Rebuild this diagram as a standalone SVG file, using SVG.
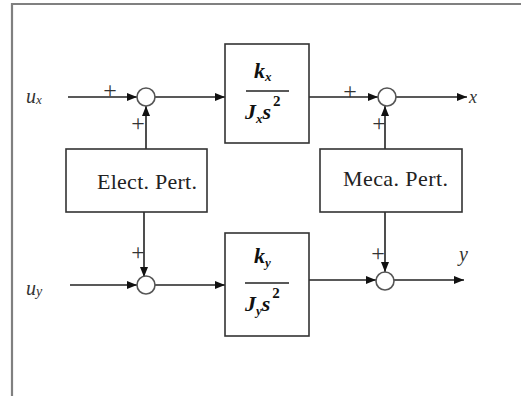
<svg xmlns="http://www.w3.org/2000/svg" width="521" height="396" viewBox="0 0 521 396">
<defs>
<marker id="ah" markerWidth="10" markerHeight="8" refX="10" refY="4" orient="auto" markerUnits="userSpaceOnUse">
<path d="M0,0 L10,4 L0,8 Z" fill="#111"/>
</marker>
<style>
.ln{stroke:#222;stroke-width:1.6;fill:none}
.bx{stroke:#333;stroke-width:1.6;fill:#fff}
.sj{stroke:#555;stroke-width:1.6;fill:#fff}
.t{font-family:"Liberation Serif","Times New Roman",serif;fill:#222}
.tf{font-family:"Liberation Serif","Times New Roman",serif;font-weight:bold;font-style:italic;fill:#111}
.it{font-family:"Liberation Serif","Times New Roman",serif;font-style:italic;fill:#333}
.pl{font-family:"Liberation Serif","Times New Roman",serif;font-size:24px;fill:#333;text-anchor:middle}
</style>
</defs>
<rect width="521" height="396" fill="#fff"/>
<path d="M12,396 V4 H521" stroke="#808080" stroke-width="2.2" fill="none"/>

<g id="connectors">
<line class="ln" x1="68" y1="97" x2="137" y2="97" marker-end="url(#ah)"/>
<line class="ln" x1="155" y1="97" x2="225" y2="97" marker-end="url(#ah)"/>
<line class="ln" x1="309" y1="97" x2="378" y2="97" marker-end="url(#ah)"/>
<line class="ln" x1="396" y1="97" x2="467" y2="97" marker-end="url(#ah)"/>
<line class="ln" x1="146" y1="149" x2="146" y2="106" marker-end="url(#ah)"/>
<line class="ln" x1="385" y1="149" x2="385" y2="106" marker-end="url(#ah)"/>
<line class="ln" x1="144" y1="212" x2="144" y2="277" marker-end="url(#ah)"/>
<line class="ln" x1="385" y1="212" x2="385" y2="272" marker-end="url(#ah)"/>
<line class="ln" x1="70" y1="285" x2="137" y2="285" marker-end="url(#ah)"/>
<line class="ln" x1="155" y1="285" x2="225" y2="285" marker-end="url(#ah)"/>
<line class="ln" x1="309" y1="280" x2="376" y2="280" marker-end="url(#ah)"/>
<line class="ln" x1="394" y1="280" x2="464" y2="280" marker-end="url(#ah)"/>
<text class="pl" x="110" y="98">+</text>
<text class="pl" x="138" y="131">+</text>
<text class="pl" x="350" y="99">+</text>
<text class="pl" x="379" y="131">+</text>
<text class="pl" x="138" y="260">+</text>
<text class="pl" x="378" y="261">+</text>
</g>

<g id="sum-tl"><circle class="sj" cx="146" cy="97" r="9"/></g>
<g id="sum-tr"><circle class="sj" cx="387" cy="97" r="9"/></g>
<g id="sum-bl"><circle class="sj" cx="146" cy="285" r="9"/></g>
<g id="sum-br"><circle class="sj" cx="385" cy="281" r="9"/></g>

<g id="block-x">
<rect class="bx" x="225" y="44" width="84" height="99"/>
<line x1="246" y1="91" x2="289" y2="91" stroke="#222" stroke-width="1.6"/>
<text class="tf" x="254" y="78" font-size="22">k<tspan font-size="13" dy="3">x</tspan></text>
<text class="tf" x="245" y="119" font-size="22">J<tspan font-size="13" dy="4">x</tspan><tspan dy="-4">s</tspan><tspan font-size="15" font-style="normal" dy="-13" dx="2">2</tspan></text>
</g>

<g id="block-y">
<rect class="bx" x="225" y="233" width="84" height="103"/>
<line x1="245" y1="283" x2="289" y2="283" stroke="#222" stroke-width="1.6"/>
<text class="tf" x="254" y="263" font-size="22">k<tspan font-size="13" dy="4">y</tspan></text>
<text class="tf" x="245" y="311" font-size="22">J<tspan font-size="13" dy="4">y</tspan><tspan dy="-4">s</tspan><tspan font-size="15" font-style="normal" dy="-13" dx="2">2</tspan></text>
</g>

<g id="elect-pert">
<rect class="bx" x="66" y="149" width="141" height="63"/>
<text class="t" x="97" y="189" font-size="22" textLength="100">Elect. Pert.</text>
</g>

<g id="meca-pert">
<rect class="bx" x="320" y="149" width="142" height="63"/>
<text class="t" x="343" y="186" font-size="22" textLength="105">Meca. Pert.</text>
</g>

<g id="labels">
<text class="it" x="26" y="103" font-size="20">u<tspan font-size="13" dy="1">x</tspan></text>
<text class="it" x="26" y="295" font-size="20">u<tspan font-size="14" dy="1">y</tspan></text>
<text class="it" x="469" y="103" font-size="18">x</text>
<text class="it" x="459" y="261" font-size="20">y</text>
</g>
</svg>
